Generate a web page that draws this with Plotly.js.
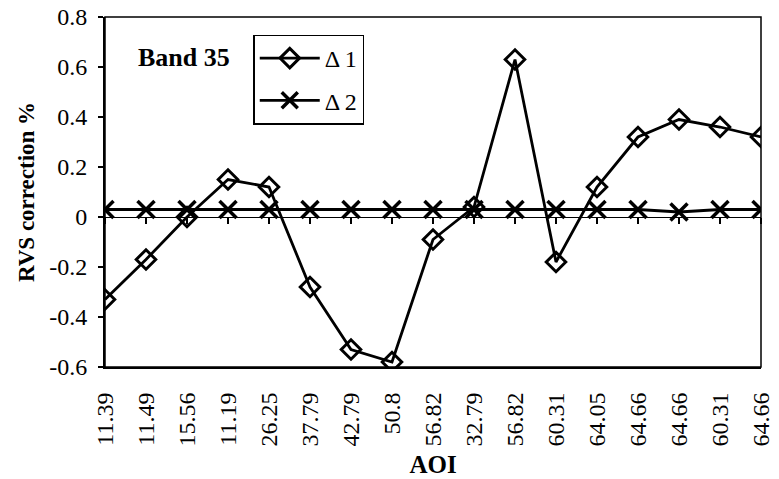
<!DOCTYPE html>
<html>
<head>
<meta charset="utf-8">
<script src="https://cdn.plot.ly/plotly-3.0.1.min.js"></script>
<style>
  html, body { margin: 0; padding: 0; background: #fff; }
  #chart { width: 779px; height: 479px; }
</style>
</head>
<body>
<div id="chart"></div>
<script>
// Angle of incidence labels, in measurement order (some values repeat)
const aoiLabels = ["11.39", "11.49", "15.56", "11.19", "26.25", "37.79", "42.79", "50.8", "56.82",
                   "32.79", "56.82", "60.31", "64.05", "64.66", "64.66", "60.31", "64.66"];

// RVS correction (%) for band 35
const delta1 = [-0.33, -0.17, 0.00, 0.15, 0.12, -0.28, -0.53, -0.58, -0.09,
                0.04, 0.63, -0.18, 0.12, 0.32, 0.39, 0.36, 0.32];
const delta2 = [0.03, 0.03, 0.03, 0.03, 0.03, 0.03, 0.03, 0.03, 0.03,
                0.03, 0.03, 0.03, 0.03, 0.03, 0.02, 0.03, 0.03];

// y-axis ticks
const yTickVals = [-0.6, -0.4, -0.2, 0, 0.2, 0.4, 0.6, 0.8];
const yTickText = ["-0.6", "-0.4", "-0.2", "0", "0.2", "0.4", "0.6", "0.8"];

const idx = aoiLabels.map((_, i) => i);
const serif = "Liberation Serif, Times New Roman, serif";
const yMin = -0.6, yMax = 0.8;

const traces = [
  {
    x: idx, y: delta1, name: "\u0394 1", legendgroup: "d1", type: "scatter", mode: "lines+markers",
    line: { color: "#000", width: 2.8 },
    marker: { symbol: "diamond-open", size: 15, color: "#000", line: { width: 3, color: "#000" } }
  },
  {
    x: idx, y: delta2, name: "\u0394 2", legendgroup: "d2", type: "scatter", mode: "lines+markers",
    line: { color: "#000", width: 2.8 },
    marker: { symbol: "x-thin-open", size: 17, color: "#000", line: { width: 3.5, color: "#000" } }
  }
];

const layout = {
  width: 779, height: 479,
  margin: { l: 105, r: 18, t: 17, b: 112 },
  paper_bgcolor: "#fff", plot_bgcolor: "#fff",
  font: { family: serif, color: "#000", size: 24 },
  showlegend: true,
  legend: {
    x: 0.226, y: 0.95, xanchor: "left", yanchor: "top",
    bgcolor: "#fff", bordercolor: "#000", borderwidth: 1.5,
    traceorder: "grouped", tracegroupgap: 8, itemwidth: 60,
    font: { family: serif, size: 24, color: "#000" }
  },
  xaxis: {
    range: [0, idx.length - 1],
    tickmode: "array", tickvals: idx, ticktext: aoiLabels,
    tickangle: -90, ticks: "", ticklabelstandoff: 14,
    showgrid: false, zeroline: false,
    showline: true, linecolor: "#000", linewidth: 2,
    tickfont: { family: serif, size: 24 },
    title: { text: "<b>AOI</b>", font: { family: serif, size: 25 }, standoff: 10 }
  },
  // tick marks along the zero line
  xaxis2: {
    overlaying: "x", anchor: "free",
    position: (0 - yMin) / (yMax - yMin),
    range: [0, idx.length - 1],
    tickmode: "array", tickvals: idx,
    ticks: "outside", ticklen: 6, tickwidth: 1.2, tickcolor: "#000",
    showticklabels: false, showgrid: false, zeroline: false, showline: false
  },
  yaxis: {
    range: [yMin, yMax],
    tickmode: "array", tickvals: yTickVals, ticktext: yTickText,
    ticks: "outside", ticklen: 5, tickwidth: 1.2, tickcolor: "#000",
    ticklabelstandoff: 6,
    showgrid: false,
    zeroline: true, zerolinecolor: "#000", zerolinewidth: 1,
    showline: true, linecolor: "#000", linewidth: 2,
    tickfont: { family: serif, size: 24 },
    title: { text: "<b>RVS correction %</b>", font: { family: serif, size: 23 }, standoff: 8 }
  },
  shapes: [
    { type: "rect", xref: "paper", yref: "paper", x0: 0, x1: 1, y0: 0, y1: 1,
      line: { color: "#000", width: 1.5 }, layer: "below" }
  ],
  annotations: [
    { text: "<b>Band 35</b>", xref: "paper", yref: "paper", x: 0.048, y: 0.885,
      xanchor: "left", yanchor: "middle", showarrow: false,
      font: { family: serif, size: 26, color: "#000" } }
  ]
};

// a hidden trace on xaxis2 so the zero-line ticks are drawn
traces.push({ x: [0], y: [0], xaxis: "x2", yaxis: "y", mode: "markers",
              marker: { opacity: 0 }, showlegend: false, hoverinfo: "skip" });

Plotly.newPlot("chart", traces, layout, { displayModeBar: false, staticPlot: true });
</script>
</body>
</html>
